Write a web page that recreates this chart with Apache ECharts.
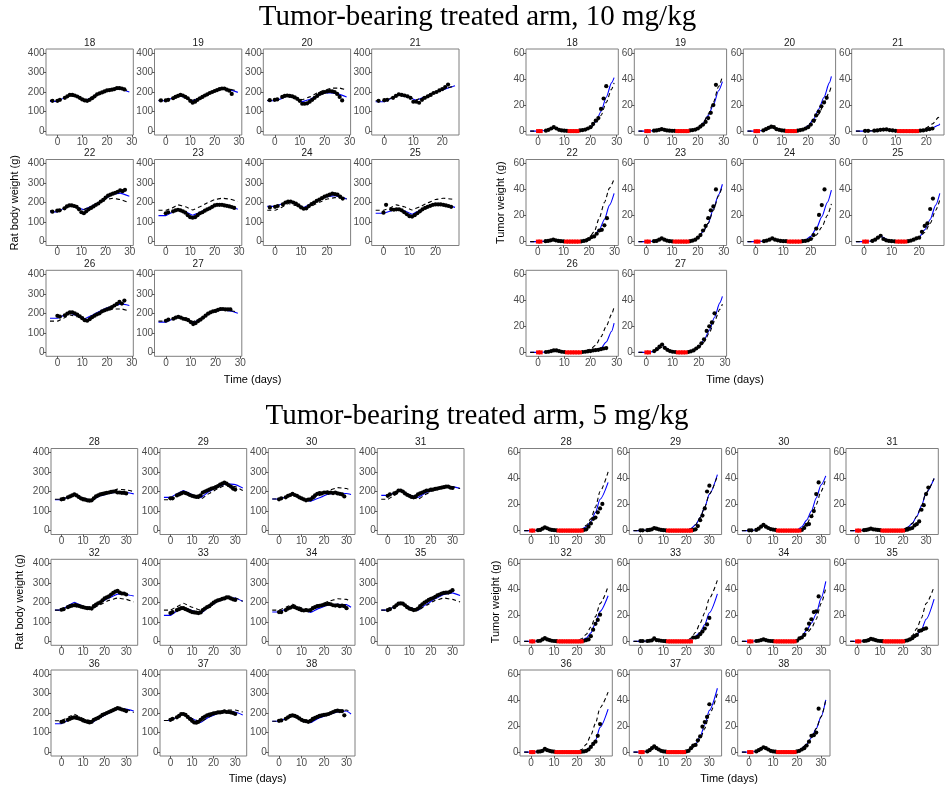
<!DOCTYPE html>
<html><head><meta charset="utf-8">
<script src="https://cdn.jsdelivr.net/npm/echarts@6/dist/echarts.min.js"></script>
<style>html,body{margin:0;padding:0;background:#fff}#c{width:945px;height:785px}</style>
</head><body><div id="c"></div>
<script>
// ---------------- DATA ----------------
const B = 'BLQ'; // below limit of quantification (shown in red at 0)
const BLQ_VALUE = 0;

const TITLE_10 = 'Tumor-bearing treated arm, 10 mg/kg';
const TITLE_5 = 'Tumor-bearing treated arm, 5 mg/kg';
const ids10 = [18,19,20,21,22,23,24,25,26,27];
const ids5 = [28,29,30,31,32,33,34,35,36,37,38];

const bwTicks = [0,100,200,300,400];
const bwLimits = [0,400];
const twTicks = [0,20,40,60];
const twLimits = [0,60];
const timeTicks = [0,10,20,30];

// observation times (days)
const bwT10 = [-2,0,1,3,4,5,6,7,8,9,10,11,12,13,14,15,16,17,18,19,20,21,22,23,24,25,26,27,28];
const twT10 = [0,1,3,4,5,6,7,8,9,10,11,12,13,14,15,16,17,18,19,20,21,22,23,24,25,26,27];
const bwT5 = [0,1,3,4,5,6,7,8,9,10,11,12,13,14,15,16,17,18,19,20,21,22,23,24,25,26,27,28,29,30];
const twT5 = [0,1,3,4,5,6,7,8,9,10,11,12,13,14,15,16,17,18,19,20,21,22,23,24,25,26,27,28,29,30,31];

// prediction knot times (last prediction point is at the panel's end time)
const bwFitT10 = [-3,0,2.5,5,8,11,14,17,20,23,26];
const twFitT10 = [-3,0,3,6,9,12,16,18,20,22,24,26,28];
const bwFitT5 = [-3,0,3,6,10,14,18,22,26,30];
const twFitT5 = [-3,0,3,6,9,12,16,20,22,24,26,28,30];

const tEnd10 = [29,29.5,28.8,24.4,29.8,29.5,27.5,27.5,29,29];
const tEnd5 = [33.5,33.5,32,33.5,33.5,33.5,32,33.5,33.5,33.5,32];

// ---- 10 mg/kg, rat body weight (g) ----
const bwObs10 = [
 [155,155,160,170,178,185,185,182,177,170,162,157,155,160,168,178,188,193,198,203,208,210,212,215,220,220,218,213],
 [157,157,160,168,175,180,185,182,175,168,155,145,150,160,168,175,182,188,195,200,205,210,215,218,218,212,207,190],
 [158,160,162,175,180,182,180,178,172,165,155,140,140,142,150,160,170,180,190,195,200,203,205,203,200,190,175,157],
 [155,158,160,170,180,188,185,182,178,170,150,150,145,160,170,178,185,195,200,208,215,225,238],
 [153,158,160,170,180,185,185,182,178,165,150,145,155,165,172,180,188,195,205,213,225,235,240,245,250,255,262,258,265],
 [null,145,150,155,160,163,160,155,148,135,125,122,125,135,145,150,158,165,170,178,185,188,188,188,185,183,180,177,172],
 [175,178,182,190,200,205,205,200,195,185,175,168,170,182,192,200,208,215,222,230,235,240,245,243,240,230,220],
 [null,148,188,165,163,165,165,160,150,140,130,128,135,145,155,165,172,178,183,188,190,190,190,188,185,182,178],
 [null,187,183,190,198,205,205,200,193,185,175,165,162,170,180,188,195,200,210,215,220,225,232,240,248,258,250,265],
 [null,162,168,172,178,182,178,172,170,165,155,145,150,160,168,178,188,198,205,210,212,218,222,222,220,220,220]
];
const bwInd10 = [
 [152,152,168,185,175,157,172,195,210,218,213,200],
 [155,155,168,182,172,155,170,190,205,215,212,198],
 [155,155,165,180,170,150,162,182,195,195,188,175],
 [150,150,168,185,175,158,175,195,210,225,232],
 [152,152,168,185,175,163,180,200,222,242,248,232],
 [133,133,148,162,152,135,150,168,185,190,182,165],
 [180,180,192,205,192,175,195,215,230,235,225,218],
 [145,145,155,168,158,140,160,180,190,190,180,175],
 [175,175,188,200,188,172,190,210,228,240,248,240],
 [155,155,168,182,170,152,172,195,212,218,212,200]
];
const bwPop10 = [
 [157,157,170,183,173,160,175,193,208,217,215,205],
 [158,158,172,185,175,158,172,192,208,220,215,205],
 [157,157,170,183,175,160,175,195,210,220,220,210],
 [155,155,170,187,177,160,177,197,212,226,230],
 [157,157,170,185,175,165,180,198,215,222,215,198],
 [160,160,172,188,178,162,178,198,215,222,218,205],
 [160,160,175,195,185,165,182,202,218,225,222,218],
 [160,160,172,188,178,162,178,198,215,222,218,212],
 [160,160,175,192,182,168,183,200,215,222,222,212],
 [160,160,172,185,175,158,175,195,210,218,215,205]
];

// ---- 10 mg/kg, tumor weight (g) ----
const twObs10 = [
 [B,B,0.3,1,2,3,2,1,0.5,0.3,0.2,B,B,B,B,0.5,0.8,1.2,2,3,5.5,8,10,17,25,34.5],
 [B,B,0.3,0.5,1,1.5,1,0.5,0.3,0.2,0.2,B,B,B,B,B,0.5,0.8,1.2,2,3.5,5,7,10,14,20,35.5],
 [B,B,0.5,1.5,2.5,3.5,3,1.5,1,0.5,0.3,B,B,B,B,0.3,0.8,1.2,2,3,5,8,12,15,19,22,25.5],
 [0.2,0.2,0.3,0.5,1,1.2,1.3,0.8,0.5,0.2,B,B,B,B,B,B,B,0.3,0.5,1,1.5,2],
 [B,B,0.3,0.5,1,1.5,1,0.5,0.3,0.2,B,B,B,B,B,B,0.2,0.5,1,2,3.5,4,6,8.5,9,12.5,18],
 [B,B,0.3,0.5,1.5,2.5,1.5,0.8,0.3,0.2,B,B,B,B,B,B,0.3,0.8,1.5,3,5,8.5,12,18,24,27,40],
 [B,B,0.3,0.8,1.5,2.5,1.5,1,0.5,0.3,0.3,B,B,B,B,B,0.3,0.5,1,2,5,10,20.5,28,40],
 [B,B,0.5,1.5,3,4.5,2,1,0.5,0.3,0.2,B,B,B,B,0.3,0.8,1.5,2.5,3,7.5,12,14,25,33],
 [B,B,0.3,0.5,1,1.5,1.5,1,0.5,0.3,B,B,B,B,B,B,0.3,0.5,0.8,1,1.5,1.8,2,2.5,3,3.3],
 [B,B,1,2.5,4.5,6,3.5,2,1,0.5,0.3,B,B,B,B,0.3,0.8,1.5,3,4.5,7,10,16.5,20,23,30]
];
const twInd10 = [
 [0,0,0.5,2.5,0.8,0.1,0.2,1,3,7,15,26,37,41],
 [0,0,0.3,1.5,0.5,0.1,0.2,0.8,2.5,6,12,20,31,38],
 [0,0,0.5,3,1,0.2,0.5,1.5,4,9,17,26,37,42],
 [0,0,0.3,1.2,0.5,0.1,0.2,0.5,1.2,2.5,4.5,5.5],
 [0,0,0.3,1.5,0.5,0.1,0.2,0.6,2,4.5,9,17,28,37],
 [0,0,0.3,2,0.6,0.1,0.3,1,3,7.5,14,25,36,44],
 [0,0,0.3,2.2,0.7,0.1,0.3,1.2,4,10,19,30,39.5],
 [0,0,0.5,4,1,0.1,0.3,1.2,3.5,9,17,28,37],
 [0,0,0.3,1.3,0.5,0.1,0.2,0.5,1,1.8,3.3,8,16,22.5],
 [0,0,0.8,5.5,1.5,0.2,0.5,2,4.5,9.5,17,27,38,43]
];
const twPop10 = [
 [0,0,0.3,2,0.7,0.1,0.2,0.8,2.5,6,12,22,32,37],
 [0,0,0.3,1.5,0.5,0.1,0.2,0.8,2.5,6,13,22,34,42],
 [0,0,0.3,2.5,0.8,0.1,0.3,1,3,6,13,21,30,35],
 [0,0,0.3,1.2,0.5,0.1,0.3,1,2.5,5.5,10.5,12.5],
 [0,0,0.3,1.5,0.5,0.1,0.3,1,3,7.5,18,30,41,48],
 [0,0,0.3,2,0.6,0.1,0.3,1,3,7.5,14,24,35,43],
 [0,0,0.3,2,0.6,0.1,0.2,0.5,1.5,5,11,20,29],
 [0,0,0.5,3.5,0.8,0.1,0.3,1,3,7,14,24,32],
 [0,0,0.3,1.2,0.5,0.1,0.3,1,2.5,5.5,12,20,29,35],
 [0,0,0.5,4,1,0.1,0.3,1.2,3.5,8,15,24,33,37]
];

// ---- 5 mg/kg, rat body weight (g) ----
const bwObs5 = [
 [160,162,170,175,180,185,180,172,165,160,158,155,153,155,165,175,180,185,188,190,193,195,198,200,200,195,195,193,193,190],
 [165,165,180,185,190,195,192,188,182,178,175,172,175,180,195,200,205,210,215,218,222,228,235,240,245,240,232,225,215,210],
 [160,165,170,178,182,188,182,178,170,165,160,155,158,160,170,180,188,192,190,195,195,193,195,192,195,190,188,185,175],
 [178,185,190,195,205,205,200,190,183,178,172,170,175,185,190,195,200,205,205,210,210,213,215,218,220,222,225,225,220,218],
 [162,165,175,180,183,185,183,182,178,175,172,170,170,168,180,188,195,200,210,220,225,230,240,248,255,258,250,245,245,240],
 [145,150,160,165,170,170,165,160,155,150,148,147,145,148,160,168,175,180,190,198,205,210,213,218,220,225,225,220,215,212],
 [150,150,160,168,172,178,175,170,165,160,158,160,158,160,170,175,180,182,185,188,190,192,190,185,183,185,180,183,180,170],
 [160,165,175,185,193,195,193,185,175,168,165,160,162,168,180,190,198,205,212,218,222,228,235,240,245,248,250,250,255,262],
 [155,157,165,170,175,178,175,172,168,162,158,155,152,155,165,170,175,182,190,195,200,205,210,215,220,225,222,218,215,210],
 [165,170,178,185,195,195,190,180,170,160,152,150,155,165,175,182,188,192,195,198,200,203,203,205,208,205,205,203,200,195],
 [160,162,170,178,185,188,185,180,172,165,160,158,155,160,170,175,180,185,188,190,192,195,200,205,210,212,210,210,188]
];
const bwInd5 = [
 [158,158,170,183,165,155,178,190,198,195,188],
 [170,170,188,205,185,168,200,225,240,235,218],
 [162,162,172,185,165,150,168,188,192,190,185],
 [180,180,192,207,182,170,195,212,222,225,215],
 [160,160,182,200,180,168,198,222,242,240,232],
 [133,133,155,172,158,143,178,205,222,222,205],
 [150,150,165,180,165,148,170,188,190,188,175],
 [160,160,178,195,175,160,190,218,240,248,235],
 [145,145,162,178,163,150,178,200,220,220,210],
 [162,162,178,195,172,152,180,198,205,205,190],
 [158,158,170,185,168,150,175,192,205,210,195]
];
const bwPop5 = [
 [160,160,172,185,168,158,178,195,212,208,200],
 [158,158,178,198,180,160,190,215,235,225,205],
 [162,162,172,185,168,155,180,205,220,215,205],
 [160,160,180,200,178,160,188,210,222,225,215],
 [160,160,178,195,178,165,188,210,222,215,202],
 [160,160,178,195,175,160,185,208,225,222,205],
 [160,160,175,190,172,158,185,205,218,215,205],
 [160,160,178,195,175,160,185,210,222,215,202],
 [160,160,178,193,172,158,180,205,220,218,203],
 [162,162,178,195,172,155,180,205,215,215,205],
 [158,158,172,188,170,155,178,198,212,215,208]
];

// ---- 5 mg/kg, tumor weight (g) ----
const twObs5 = [
 [B,B,0.3,0.5,1.5,2.5,1.8,1,0.5,0.3,0.2,B,B,B,B,B,B,B,B,B,B,B,0.5,1,3,5.5,9,10,14,17,20.5],
 [0.2,0.2,0.3,0.5,1,2,1.5,1,0.5,0.3,0.2,B,B,B,B,B,B,B,B,B,B,B,0.5,1,3.5,8,11.5,17,30,34.5],
 [0.2,0.2,0.5,1.5,3,4.5,3,2,1.2,0.8,0.5,B,B,B,B,B,B,B,B,B,B,0.5,2,4.5,5,11,15,28,37],
 [B,B,0.3,0.5,1,1.5,1,0.8,0.5,0.3,B,B,B,B,B,B,B,B,B,B,0.5,0.8,1.5,2,4,5,7,16,19.5,28,33],
 [B,B,0.3,0.5,1.5,2.5,1.5,1,0.5,0.3,0.2,B,B,B,B,B,B,B,B,B,B,B,0.5,1,1.5,4,9,13.5,16.5,20.5],
 [0.3,0.3,0.3,0.5,0.8,2.3,1,0.8,0.5,0.3,0.2,B,B,B,B,B,B,B,B,B,B,B,3,3,3.5,5.5,7.5,9.8,13,18],
 [B,B,0.3,0.5,1,1.5,1,0.5,0.3,0.2,B,B,B,B,B,B,B,B,B,0.5,2.3,3,5,9.3,13.6,17,22.5,23,34.5],
 [B,B,0.3,0.5,1,2,1.5,1,0.5,0.3,0.2,B,B,B,B,B,B,B,B,B,0.5,0.8,1.5,2.5,4,5,8,8.5,9.5,10],
 [B,B,0.3,0.5,1,2.5,1.5,1,0.5,0.3,B,B,B,B,B,B,B,B,B,B,B,0.3,0.5,1,2,4,6.3,8,12.5,21.5],
 [B,B,0.5,1.5,3,4.5,3,2,1,0.5,0.3,B,B,B,B,B,B,B,B,0.5,1,3,5,5.5,9,12,19.5,23,27,36.7],
 [B,B,0.5,1.5,2.5,3.7,3,2,1,0.5,0.3,B,B,B,B,B,B,B,B,0.5,1,2,3,5,8,12.5,13,15,33.3]
];
const twInd5 = [
 [0,0,0.3,2.5,0.8,0.1,0.1,0.3,1,3,7,14,24,37],
 [0,0,0.3,1.8,0.5,0.1,0.1,0.3,1.5,4.5,10,18,28,43],
 [0,0,0.5,4,1.2,0.2,0.1,0.5,3,8,15,25,35,42],
 [0,0,0.3,1.5,0.5,0.1,0.1,0.5,2.5,5.5,11,19,29,40],
 [0,0,0.3,2.3,0.7,0.1,0.1,0.3,0.8,2.5,6.5,14,23,35],
 [0,0,0.3,1.8,0.5,0.1,0.1,0.3,1.5,4,7,13,22,36.5],
 [0,0,0.3,1.5,0.4,0.1,0.1,1,4,8.5,14,21,33,46],
 [0,0,0.3,2,0.6,0.1,0.1,0.3,1,2.5,5,9,17,32.5],
 [0,0,0.3,2,0.6,0.1,0.1,0.3,0.5,1.5,4,9,19,33],
 [0,0,0.5,4,1.2,0.2,0.1,0.8,3,6,12,21,32,49],
 [0,0,0.5,3.5,1,0.1,0.1,0.5,3,6,11,18,27,40]
];
const twPop5 = [
 [0,0,0.3,2.5,0.8,0.1,0.1,0.3,1.2,4,9,18,30,45],
 [0,0,0.3,1.5,0.5,0.1,0.1,0.3,1.5,4.5,10,18,28,42],
 [0,0,0.5,3.5,1,0.2,0.1,0.3,1.5,5,11,20,30,40],
 [0,0,0.3,1.5,0.5,0.1,0.1,0.5,2.5,5.5,11,19,29,40],
 [0,0,0.3,2,0.6,0.1,0.1,0.3,2,5.5,11,19,29,42],
 [0,0,0.3,1.8,0.5,0.1,0.1,0.3,2.5,7,14,22,33,47],
 [0,0,0.3,1.5,0.4,0.1,0.1,0.8,3,6,10,17,29,41],
 [0,0,0.3,2,0.6,0.1,0.1,0.3,1.5,4.5,10,18,29,42],
 [0,0,0.3,2,0.6,0.1,0.1,0.3,2,6,13,22,34,46],
 [0,0,0.5,4,1,0.2,0.1,0.5,2.5,5.5,10,18,29,45],
 [0,0,0.5,3,1,0.1,0.1,0.5,3,6,11,18,27,40]
];

// ---------------- LAYOUT / STYLE ----------------
const SANS = '"Liberation Sans", Arial, Helvetica, sans-serif';
const SERIF = '"Liberation Serif", "Times New Roman", serif';
const BORDER = '#7f7f7f';
const TICK_COL = '#333333';
const LABEL_COL = '#4d4d4d';
const LAYOUT = {
  tl: {lefts:[46,154.5,263.3,371.7], w:87.3, tops:[49,159.5,270.3], h:86},
  tr: {lefts:[526,634.3,743.3,851.7], w:92.3, tops:[49,159.5,270.3], h:86},
  bl: {lefts:[51,160,268.3,377.3], w:86.7, tops:[448.5,559.3,670], h:86},
  br: {lefts:[520,629.3,737.7,846], w:92.3, tops:[448.5,559.3,670], h:86}
};

const grids = [], xAxes = [], yAxes = [], series = [], graphics = [];

function addPanel(box, id, obsT, obs, fitT, ind, pop, tEnd, yTicks, yLim, smooth) {
  const gi = grids.length;
  grids.push({left:box.x, top:box.y, width:box.w, height:box.h, show:true,
    borderColor:BORDER, borderWidth:1, backgroundColor:'rgba(0,0,0,0)', containLabel:false, outerBoundsMode:'none'});
  const indPts = ind.map((v,k)=>[k===ind.length-1 ? tEnd : fitT[k], v]);
  const popPts = pop.map((v,k)=>[k===pop.length-1 ? tEnd : fitT[k], v]);
  const obsPts = [], blqPts = [];
  obs.forEach((v,k)=>{
    if (v === null || v === undefined) return;
    if (v === B) blqPts.push([obsT[k], BLQ_VALUE]); else obsPts.push([obsT[k], v]);
  });
  const xs = indPts.concat(popPts, obsPts, blqPts).map(p=>p[0]);
  const lo = Math.min(...xs), hi = Math.max(...xs), r = hi - lo;
  const xmin = lo - 0.05*r, xmax = hi + 0.05*r;
  const xt = timeTicks.filter(t => t >= xmin && t <= xmax);
  const yr = yLim[1]-yLim[0];
  const ymin = yLim[0]-0.05*yr, ymax = yLim[1]+0.05*yr;
  xAxes.push({gridIndex:gi, type:'value', min:xmin, max:xmax, position:'bottom',
    axisLine:{show:false, onZero:false}, splitLine:{show:false},
    axisTick:{show:true, length:2.5, inside:false, lineStyle:{color:TICK_COL, width:0.8}, customValues:xt},
    axisLabel:{show:true, color:LABEL_COL, fontSize:10, fontFamily:SANS, margin:2, customValues:xt, hideOverlap:false}});
  yAxes.push({gridIndex:gi, type:'value', min:ymin, max:ymax, position:'left',
    axisLine:{show:false, onZero:false}, splitLine:{show:false},
    axisTick:{show:true, length:2.5, inside:false, lineStyle:{color:TICK_COL, width:0.8}, customValues:yTicks},
    axisLabel:{show:true, color:LABEL_COL, fontSize:10, fontFamily:SANS, margin:1.5, customValues:yTicks, hideOverlap:false}});
  series.push({type:'line', xAxisIndex:gi, yAxisIndex:gi, data:indPts, showSymbol:false, symbol:'none',
    smooth:smooth, smoothMonotone:'x', lineStyle:{color:'#0000ff', width:1.1}, z:2, silent:true});
  series.push({type:'line', xAxisIndex:gi, yAxisIndex:gi, data:popPts, showSymbol:false, symbol:'none',
    smooth:smooth, smoothMonotone:'x', lineStyle:{color:'#000000', width:1.1, type:[4,3]}, z:3, silent:true});
  series.push({type:'scatter', xAxisIndex:gi, yAxisIndex:gi, data:obsPts, symbol:'circle', symbolSize:4.2,
    itemStyle:{color:'#000000', opacity:1}, z:4, silent:true});
  if (blqPts.length) series.push({type:'scatter', xAxisIndex:gi, yAxisIndex:gi, data:blqPts, symbol:'rect', symbolSize:4,
    itemStyle:{color:'#ff0000', opacity:1}, z:5, silent:true});
  graphics.push({type:'text', x:box.x+box.w/2, y:box.y-6, silent:true,
    style:{text:String(id), font:'10px '+SANS, fill:'#1a1a1a', align:'center', verticalAlign:'middle', textAlign:'center', textVerticalAlign:'middle'}});
}

function addGroup(lay, ids, obsT, obsArr, fitT, indArr, popArr, tEnds, yTicks, yLim, smooth) {
  ids.forEach((id,k)=>{
    const row = Math.floor(k/4), col = k%4;
    addPanel({x:lay.lefts[col], y:lay.tops[row], w:lay.w, h:lay.h}, id, obsT, obsArr[k], fitT, indArr[k], popArr[k], tEnds[k], yTicks, yLim, smooth);
  });
}

addGroup(LAYOUT.tl, ids10, bwT10, bwObs10, bwFitT10, bwInd10, bwPop10, tEnd10, bwTicks, bwLimits, 0.1);
addGroup(LAYOUT.tr, ids10, twT10, twObs10, twFitT10, twInd10, twPop10, tEnd10, twTicks, twLimits, 0.25);
addGroup(LAYOUT.bl, ids5, bwT5, bwObs5, bwFitT5, bwInd5, bwPop5, tEnd5, bwTicks, bwLimits, 0.1);
addGroup(LAYOUT.br, ids5, twT5, twObs5, twFitT5, twInd5, twPop5, tEnd5, twTicks, twLimits, 0.25);

function txt(x, y, s, font, rot) {
  graphics.push({type:'text', x:x, y:y, rotation:rot||0, silent:true,
    style:{text:s, font:font, fill:'#000000', align:'center', verticalAlign:'middle', textAlign:'center', textVerticalAlign:'middle'}});
}
txt(477.5, 17, TITLE_10, '29px '+SERIF);
txt(477, 416.5, TITLE_5, '29px '+SERIF);
txt(14.5, 202.7, 'Rat body weight (g)', '11px '+SANS, Math.PI/2);
txt(500.5, 202.7, 'Tumor weight (g)', '11px '+SANS, Math.PI/2);
txt(20, 602, 'Rat body weight (g)', '11px '+SANS, Math.PI/2);
txt(495.5, 602, 'Tumor weight (g)', '11px '+SANS, Math.PI/2);
txt(252.7, 379.5, 'Time (days)', '11px '+SANS);
txt(735, 379.5, 'Time (days)', '11px '+SANS);
txt(257.5, 778.5, 'Time (days)', '11px '+SANS);
txt(729, 778.5, 'Time (days)', '11px '+SANS);

const chart = echarts.init(document.getElementById('c'), null, {renderer:'canvas'});
chart.setOption({
  animation:false,
  backgroundColor:'#ffffff',
  grid:grids, xAxis:xAxes, yAxis:yAxes, series:series,
  graphic:{elements:graphics}
});
</script></body></html>
